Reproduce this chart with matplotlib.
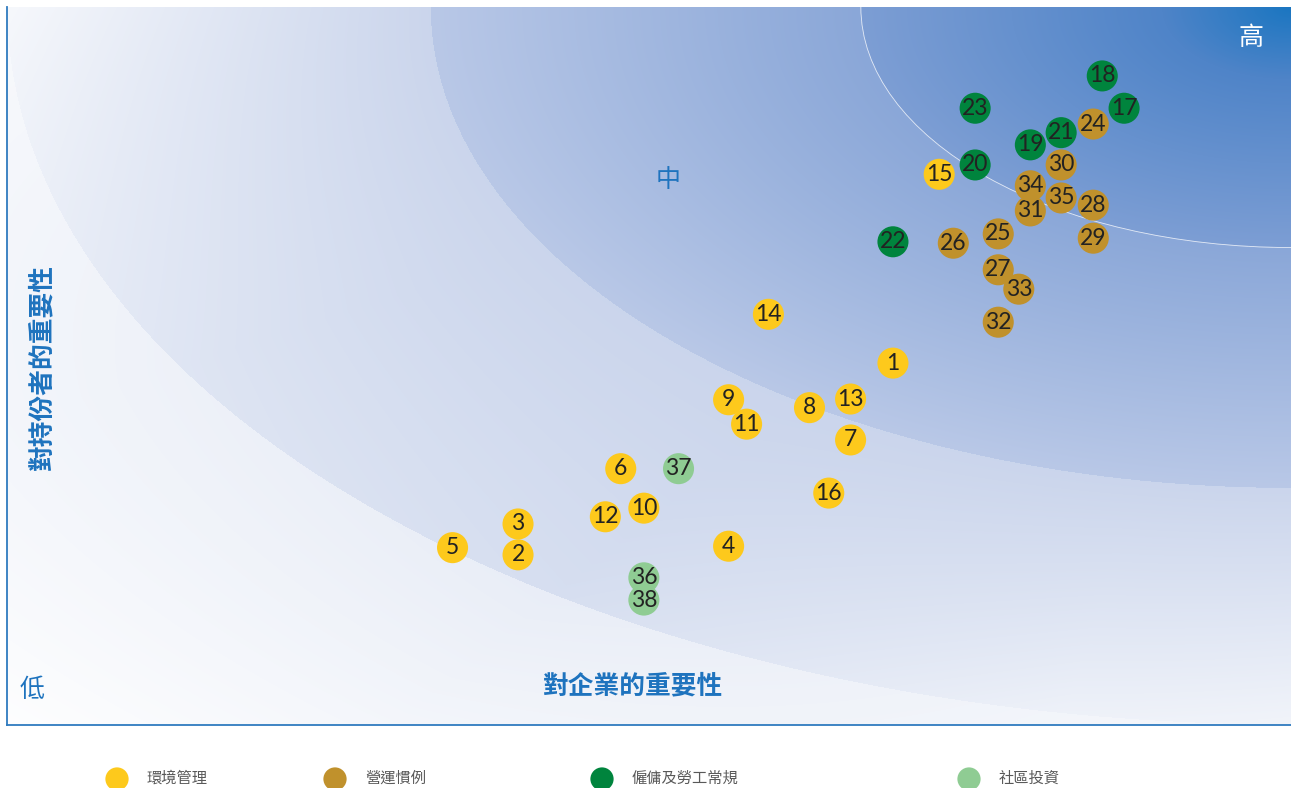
import numpy as np
import matplotlib
matplotlib.use('Agg')
import matplotlib.pyplot as plt
from matplotlib.patches import Circle
from matplotlib.colors import to_rgb

plt.rcParams['font.family'] = ['Noto Sans CJK TC', 'DejaVu Sans']

# materiality topics (x = importance to business, y = importance to stakeholders)
topic_ids = list(range(1, 39))
biz_importance = [6.90, 3.98, 3.98, 5.62, 3.47, 4.78, 6.57, 6.25, 5.62, 4.96,
                  5.76, 4.66, 6.57, 5.93, 7.26, 6.40, 8.70, 8.53, 7.97, 7.54,
                  8.21, 6.90, 7.54, 8.46, 7.72, 7.37, 7.72, 8.46, 8.46, 8.21,
                  7.97, 7.72, 7.88, 7.97, 8.21, 4.96, 5.23, 4.96]
stakeholder_importance = [5.04, 2.37, 2.80, 2.49, 2.47, 3.57, 3.97, 4.42, 4.53, 3.02,
                          4.19, 2.90, 4.54, 5.72, 7.67, 3.23, 8.59, 9.04, 8.08, 7.80,
                          8.25, 6.73, 8.59, 8.37, 6.84, 6.71, 6.34, 7.24, 6.78, 7.80,
                          7.16, 5.61, 6.07, 7.51, 7.34, 2.05, 3.57, 1.74]
topic_group = [0] * 16 + [2] * 7 + [1] * 12 + [3] * 3

group_names = ['環境管理', '營運慣例', '僱傭及勞工常規', '社區投資']
group_colors = ['#fdc91c', '#c0912c', '#00843d', '#8fcc93']

band_radii = [3.35, 6.7, 10.0]  # zones high / mid / low, around the top-right corner
level_labels = ['高', '中', '低']

W, H, DPI = 1291, 788, 100
fig = plt.figure(figsize=(W / DPI, H / DPI), dpi=DPI)
ax = fig.add_axes([7 / W, 63 / H, 1284 / W, 718 / H])
ax.set_xlim(0, 10)
ax.set_ylim(0, 10)


def ramp(r, stops):
    pos = [s[0] for s in stops]
    cols = np.array([to_rgb(s[1]) for s in stops])
    return np.stack([np.interp(r, pos, cols[:, k]) for k in range(3)], axis=-1)


# background: concentric zones with radial shading
gx = np.linspace(0, 10, 1284)
gy = np.linspace(10, 0, 718)
X, Y = np.meshgrid(gx, gy)
R = np.hypot(10 - X, 10 - Y)
theta = np.degrees(np.arctan2(10 - Y, 10 - X))  # 0 = towards left, 90 = straight down
ang = [0, 30, 55, 80, 90]

# low zone + outside: lavender base washed towards white
lav = np.array(to_rgb('#c8d3eb'))
t = np.clip((R - band_radii[1]) / (band_radii[2] - band_radii[1]), 0, 1)
f_in = 0.05 + (np.interp(theta, ang, [0.84, 0.42, 0.26, 0.69, 0.75]) - 0.05) * t
f_out0 = np.interp(theta, ang, [0.88, 0.69, 0.60, 0.78, 0.80])
f_out = f_out0 + (0.97 - f_out0) * np.clip((R - band_radii[2]) / 4.1, 0, 1)
f = np.where(R < band_radii[2], f_in, f_out)[..., None]
img = lav + f * (1 - lav)

mid = R < band_radii[1]
img[mid] = ramp(R[mid], [(band_radii[0], '#8aa7d8'), (band_radii[1], '#b9c8e7')])
inner = R < band_radii[0]
img[inner] = ramp(R[inner], [(0, '#1b76c1'), (1.0, '#4f84c8'), (band_radii[0], '#7d9ed4')])
ax.imshow(img, extent=(0, 10, 0, 10), aspect='auto', zorder=0, interpolation='bilinear')
ax.add_patch(Circle((10, 10), band_radii[0], fill=False, ec='white', lw=0.6, alpha=0.8, zorder=1))

# topic markers
for i, tid in enumerate(topic_ids):
    ax.scatter(biz_importance[i], stakeholder_importance[i], s=500,
               color=group_colors[topic_group[i]], edgecolors='none', zorder=3 + 2 * i)
    ax.text(biz_importance[i], stakeholder_importance[i], str(tid), family='Lato',
            fontsize=16.5, color='#222222', ha='center', va='center', zorder=4 + 2 * i)

ax.text(0.969, 0.957, level_labels[0], transform=ax.transAxes, color='white',
        fontsize=18, ha='center', va='center')
ax.text(0.515, 0.759, level_labels[1], transform=ax.transAxes, color='#1e73be',
        fontsize=18, ha='center', va='center')
ax.text(0.0195, 0.049, level_labels[2], transform=ax.transAxes, color='#1e73be',
        fontsize=18, ha='center', va='center')

ax.text(0.4875, 0.054, '對企業的重要性', transform=ax.transAxes, color='#1e73be',
        fontsize=18.5, fontweight='bold', ha='center', va='center')
ax.text(0.027, 0.499, '對持份者的重要性', transform=ax.transAxes, color='#1e73be',
        fontsize=18.5, fontweight='bold', ha='center', va='center', rotation=90)

ax.set_xticks([])
ax.set_yticks([])
for side in ['top', 'right']:
    ax.spines[side].set_visible(False)
for side in ['left', 'bottom']:
    ax.spines[side].set_color('#2f7bbf')
    ax.spines[side].set_linewidth(1.3)

# legend row (partly cut by the bottom edge, as in the source)
lg = fig.add_axes([0, 0, 1, 1])
lg.set_xlim(0, W)
lg.set_ylim(H, 0)
lg.axis('off')
legend_x = [117, 335, 602, 969]
for k, name in enumerate(group_names):
    lg.scatter(legend_x[k], 779, s=280, color=group_colors[k], edgecolors='none', clip_on=False)
    lg.text(legend_x[k] + 30, 778, name, fontsize=11, color='#595959', va='center', ha='left')

fig.savefig('out.png', dpi=DPI)
